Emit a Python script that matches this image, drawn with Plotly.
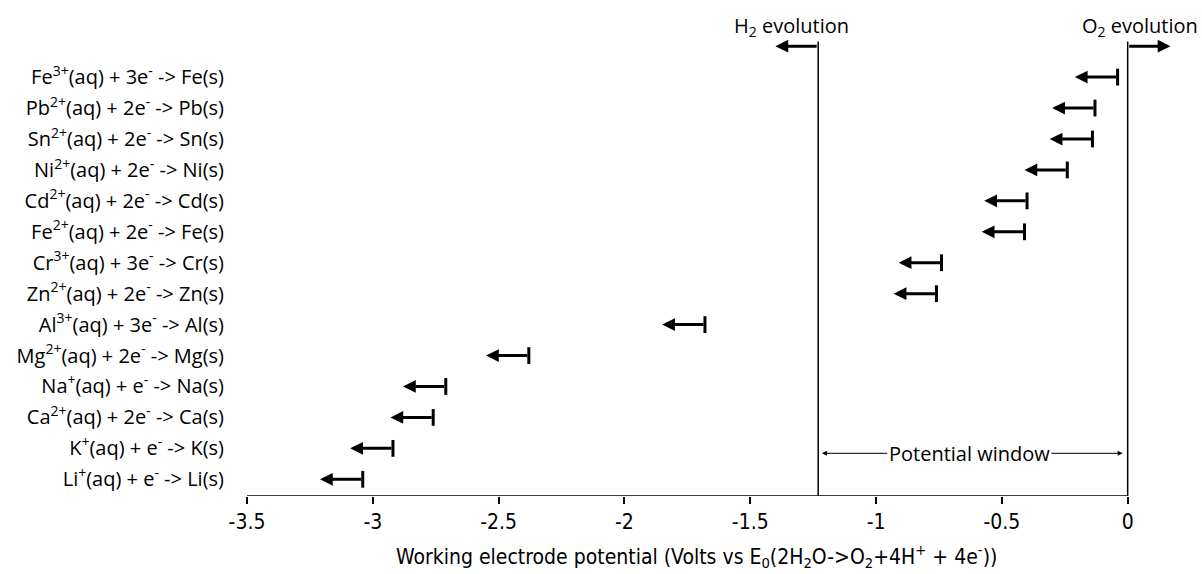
import plotly.graph_objects as go

# ---- data (top to bottom) ----
reactions = [
    "Fe<sup>3+</sup>(aq) + 3e<sup>-</sup> -> Fe(s)",
    "Pb<sup>2+</sup>(aq) + 2e<sup>-</sup> -> Pb(s)",
    "Sn<sup>2+</sup>(aq) + 2e<sup>-</sup> -> Sn(s)",
    "Ni<sup>2+</sup>(aq) + 2e<sup>-</sup> -> Ni(s)",
    "Cd<sup>2+</sup>(aq) + 2e<sup>-</sup> -> Cd(s)",
    "Fe<sup>2+</sup>(aq) + 2e<sup>-</sup> -> Fe(s)",
    "Cr<sup>3+</sup>(aq) + 3e<sup>-</sup> -> Cr(s)",
    "Zn<sup>2+</sup>(aq) + 2e<sup>-</sup> -> Zn(s)",
    "Al<sup>3+</sup>(aq) + 3e<sup>-</sup> -> Al(s)",
    "Mg<sup>2+</sup>(aq) + 2e<sup>-</sup> -> Mg(s)",
    "Na<sup>+</sup>(aq) + e<sup>-</sup> -> Na(s)",
    "Ca<sup>2+</sup>(aq) + 2e<sup>-</sup> -> Ca(s)",
    "K<sup>+</sup>(aq) + e<sup>-</sup> -> K(s)",
    "Li<sup>+</sup>(aq) + e<sup>-</sup> -> Li(s)",
]
potentials = [-0.04, -0.13, -0.14, -0.24, -0.40, -0.41, -0.74, -0.76,
              -1.68, -2.38, -2.71, -2.76, -2.92, -3.04]
h2_potential = -1.23
o2_potential = 0.0
x_tickvals = [-3.5, -3, -2.5, -2, -1.5, -1, -0.5, 0]
x_ticktext = ["-3.5", "-3", "-2.5", "-2", "-1.5", "-1", "-0.5", "0"]

ARROW_LEN = 0.17
n = len(reactions)
rows = [n - 1 - i for i in range(n)]
top_row = n  # row for the evolution arrows
Y_MIN = -0.54
Y_MAX = 14.2

LABEL_FONT = dict(family="Open Sans, DejaVu Sans, sans-serif", size=20, color="black")
AXIS_FONT = dict(family="Liberation Sans Narrow, DejaVu Sans Condensed, Roboto, sans-serif",
                 size=21, color="black")

fig = go.Figure()

# tail bars of arrows
fig.add_trace(go.Scatter(
    x=potentials, y=rows, mode="markers",
    marker=dict(symbol="line-ns", size=12, line=dict(width=3, color="black"), color="black"),
    hoverinfo="skip", showlegend=False,
))

annotations = []
for p, r in zip(potentials, rows):
    annotations.append(dict(
        x=p - ARROW_LEN, y=r, ax=p, ay=r, xref="x", yref="y", axref="x", ayref="y",
        text="", showarrow=True, arrowhead=2, arrowsize=0.85, arrowwidth=3,
        arrowcolor="black", standoff=0, startstandoff=0,
    ))

# H2 / O2 evolution arrows
annotations.append(dict(
    x=h2_potential - ARROW_LEN, y=top_row, ax=h2_potential, ay=top_row,
    xref="x", yref="y", axref="x", ayref="y", text="", showarrow=True,
    arrowhead=2, arrowsize=0.85, arrowwidth=3, arrowcolor="black", standoff=0,
))
annotations.append(dict(
    x=o2_potential + ARROW_LEN, y=top_row, ax=o2_potential, ay=top_row,
    xref="x", yref="y", axref="x", ayref="y", text="", showarrow=True,
    arrowhead=2, arrowsize=0.85, arrowwidth=3, arrowcolor="black", standoff=0,
))
annotations.append(dict(
    x=h2_potential - 0.105, y=1.0, xref="x", yref="paper", yshift=-3,
    text="H<sub>2</sub> evolution", showarrow=False, font=LABEL_FONT,
    yanchor="bottom",
))
annotations.append(dict(
    x=o2_potential + 0.05, y=1.0, xref="x", yref="paper", yshift=-3,
    text="O<sub>2</sub> evolution", showarrow=False, font=LABEL_FONT,
    yanchor="bottom",
))

# potential window
pw_y = 0.84
pw_x = -0.63
annotations.append(dict(
    x=o2_potential - 0.02, y=pw_y, ax=pw_x, ay=pw_y, xref="x", yref="y",
    axref="x", ayref="y", text="", showarrow=True, arrowhead=2, arrowsize=1,
    arrowwidth=1, arrowcolor="black", standoff=0,
))
annotations.append(dict(
    x=h2_potential + 0.015, y=pw_y, ax=pw_x, ay=pw_y, xref="x", yref="y",
    axref="x", ayref="y", text="Potential window", showarrow=True, arrowhead=2,
    arrowsize=1, arrowwidth=1, arrowcolor="black", standoff=0,
    bgcolor="white", font=LABEL_FONT, borderpad=1,
))

# x-axis title
annotations.append(dict(
    x=0.483, y=-0.132, xref="paper", yref="paper",
    text="Working electrode potential (Volts vs E<sub>0</sub>(2H<sub>2</sub>O->O<sub>2</sub>+4H<sup>+</sup> + 4e<sup>-</sup>))",
    showarrow=False, font=AXIS_FONT, yanchor="middle",
))

shapes = [
    dict(type="line", xref="x", yref="y", x0=h2_potential, x1=h2_potential,
         y0=Y_MIN, y1=top_row + 0.15, line=dict(color="black", width=1.5)),
    dict(type="line", xref="x", yref="y", x0=o2_potential, x1=o2_potential,
         y0=Y_MIN, y1=top_row + 0.15, line=dict(color="black", width=1.5)),
    dict(type="line", xref="x", yref="y", x0=x_tickvals[0], x1=x_tickvals[-1],
         y0=Y_MIN, y1=Y_MIN, line=dict(color="black", width=1.5)),
]

fig.update_layout(
    width=1202, height=574, autosize=False,
    margin=dict(l=247, r=24, t=40, b=78, pad=0),
    paper_bgcolor="white", plot_bgcolor="white",
    showlegend=False,
    annotations=annotations,
    shapes=shapes,
    xaxis=dict(range=[-3.5, 0.2], tickvals=x_tickvals, ticktext=x_ticktext,
               showgrid=False, zeroline=False, showline=False,
               ticks="outside", ticklen=7, tickwidth=1.5, tickcolor="black",
               tickfont=AXIS_FONT),
    yaxis=dict(range=[Y_MIN, Y_MAX], tickvals=rows, ticktext=reactions,
               showgrid=False, zeroline=False, showline=False, ticks="",
               ticklabelstandoff=22, tickfont=LABEL_FONT),
)

fig.write_html("out.html")
